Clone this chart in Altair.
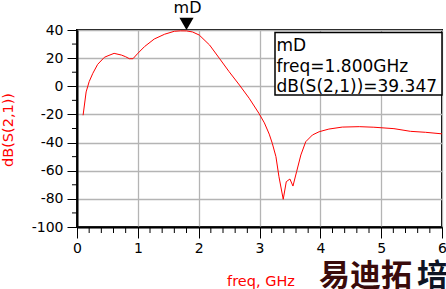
import altair as alt
import pandas as pd

# S21 trace (GHz, dB)
freq = [0.1, 0.15, 0.2, 0.26, 0.34, 0.45, 0.51, 0.61, 0.73, 0.8, 0.86, 0.92, 1.0, 1.11,
        1.27, 1.44, 1.6, 1.7, 1.8, 1.9, 2.01, 2.18, 2.34, 2.5, 2.67, 2.83, 2.99, 3.08,
        3.16, 3.21, 3.27, 3.32, 3.39, 3.44, 3.5, 3.55, 3.61, 3.68, 3.76, 3.87, 3.98,
        4.14, 4.36, 4.64, 4.88, 5.21, 5.48, 5.73, 6.0]
s21 = [-20.6, -4.0, 3.3, 9.2, 15.6, 20.6, 21.7, 23.4, 22.2, 21.0, 19.6, 19.6, 23.4, 28.2,
       33.6, 37.0, 39.1, 39.4, 39.347, 38.6, 36.4, 29.3, 19.9, 10.4, 0.9, -8.5, -19.2, -26.0,
       -34.0, -40.5, -50.0, -64.3, -80.3, -67.8, -65.9, -70.9, -60.7, -48.8, -39.4, -34.6, -32.3,
       -30.4, -29.0, -28.7, -29.1, -30.1, -32.0, -32.7, -33.8]

marker_name = ["mD"]
marker_freq = [1.8]
marker_val = [39.347]
marker_lines = ["mD", "freq=1.800GHz", "dB(S(2,1))=39.347"]

x_major = [0, 1, 2, 3, 4, 5, 6]
x_minor = [round(i * 0.2, 1) for i in range(31) if i % 5 != 0]
y_major = [-100, -80, -60, -40, -20, 0, 20, 40]
y_minor = [-90, -70, -50, -30, -10, 10, 30]

x_title = "freq, GHz"
y_title = "dB(S(2,1))"
watermark_a = "易迪拓"
watermark_b = "培"

df = pd.DataFrame({"freq": freq, "s21": s21})
mk = pd.DataFrame({"freq": marker_freq, "val": marker_val, "name": marker_name})

FONT = "DejaVu Sans"
W, H = 365, 197

xscale = alt.Scale(domain=[0, 6], nice=False, zero=False)
yscale = alt.Scale(domain=[-100, 40], nice=False, zero=False)

xaxis = alt.Axis(
    values=x_major,
    title=x_title,
    titleColor="#ff0000",
    titleFont=FONT,
    titleFontSize=14.5,
    titleFontWeight="normal",
    titleX=W / 2 + 1,
    titleY=58,
    titleBaseline="alphabetic",
    titleAnchor="middle",
    format="d",
    labelFont=FONT,
    labelFontSize=14,
    labelColor="black",
    labelPadding=3,
    labelBaseline="top",
    labelOverlap=False,
    labelFlush=False,
    tickColor="black",
    tickWidth=1,
    tickSize=11,
    grid=True,
    gridColor="#b4b4b4",
    gridWidth=1.3,
    domainColor="black",
    domainWidth=2,
)

yaxis = alt.Axis(
    values=y_major,
    title=y_title,
    titleColor="#ff0000",
    titleFont=FONT,
    titleFontSize=14.5,
    titleFontWeight="normal",
    titleAngle=270,
    titleX=-69,
    titleY=H / 2 + 1,
    titleBaseline="middle",
    titleAlign="center",
    labelExpr="datum.value < 0 ? '-' + format(abs(datum.value), 'd') : format(datum.value, 'd')",
    labelFont=FONT,
    labelFontSize=14,
    labelColor="black",
    labelPadding=4,
    labelOverlap=False,
    labelFlush=False,
    tickColor="black",
    tickWidth=1,
    tickSize=10,
    grid=True,
    gridColor="#b4b4b4",
    gridWidth=1.3,
    domainColor="black",
    domainWidth=2,
)

X = lambda f: alt.X(f"{f}:Q", scale=xscale, axis=xaxis)
Y = lambda f: alt.Y(f"{f}:Q", scale=yscale, axis=yaxis)

line = alt.Chart(df).mark_line(color="#ff0000", strokeWidth=1, interpolate="linear").encode(
    x=X("freq"), y=Y("s21"),
)

# minor ticks on both axes, positioned through the shared scales
xmin_df = pd.DataFrame({"v": x_minor})
xminor = alt.Chart(xmin_df).mark_rule(color="black", strokeWidth=1).encode(
    x=X("v"), y=alt.value(H), y2=alt.value(H + 6),
)
ymin_df = pd.DataFrame({"v": y_minor})
yminor = alt.Chart(ymin_df).mark_rule(color="black", strokeWidth=1).encode(
    y=Y("v"), x=alt.value(-5), x2=alt.value(0),
)

tri = alt.Chart(mk).mark_point(shape="triangle-down", filled=True, color="black",
                                size=200, opacity=1, yOffset=-7).encode(
    x=X("freq"), y=Y("val"),
)

mlabel = alt.Chart(mk).mark_text(font=FONT, fontSize=16, color="black", baseline="alphabetic",
                                 align="center", yOffset=-17.5, dx=1).encode(
    x=X("freq"), y=Y("val"), text="name:N",
)

box = alt.Chart(mk).mark_rect(fill="white", stroke="black", strokeWidth=1.5).encode(
    x=alt.value(198), x2=alt.value(365), y=alt.value(2.5), y2=alt.value(65),
)

text_layers = []
for t, yy in zip(marker_lines, [21, 41.5, 61.5]):
    tdf = pd.DataFrame({"t": [t]})
    text_layers.append(
        alt.Chart(tdf).mark_text(font=FONT, fontSize=17, color="black",
                                 align="left", baseline="alphabetic").encode(
            x=alt.value(199.5), y=alt.value(yy), text="t:N",
        )
    )

wm_df = pd.DataFrame({"a": [watermark_a], "b": [watermark_b]})
wm1 = alt.Chart(wm_df).mark_text(font="Noto Sans CJK SC", fontSize=31, fontWeight="bold",
                                 color="#3a0b0b", align="left", baseline="middle").encode(
    x=alt.value(242), y=alt.value(247), text="a:N",
)
wm2 = alt.Chart(wm_df).mark_text(font="Noto Sans CJK SC", fontSize=31, fontWeight="bold",
                                 color="#0d1424", align="left", baseline="middle").encode(
    x=alt.value(340), y=alt.value(247), text="b:N",
)

chart = alt.layer(line, xminor, yminor, box, *text_layers, tri, mlabel, wm1, wm2).properties(
    width=W,
    height=H,
    autosize=alt.AutoSizeParams(type="none"),
    padding={"left": 77, "top": 30, "right": 4, "bottom": 62},
    background="white",
).configure_view(
    stroke="black",
    strokeWidth=2,
)

chart.save("out.html", embed_options={"renderer": "svg", "actions": False})
